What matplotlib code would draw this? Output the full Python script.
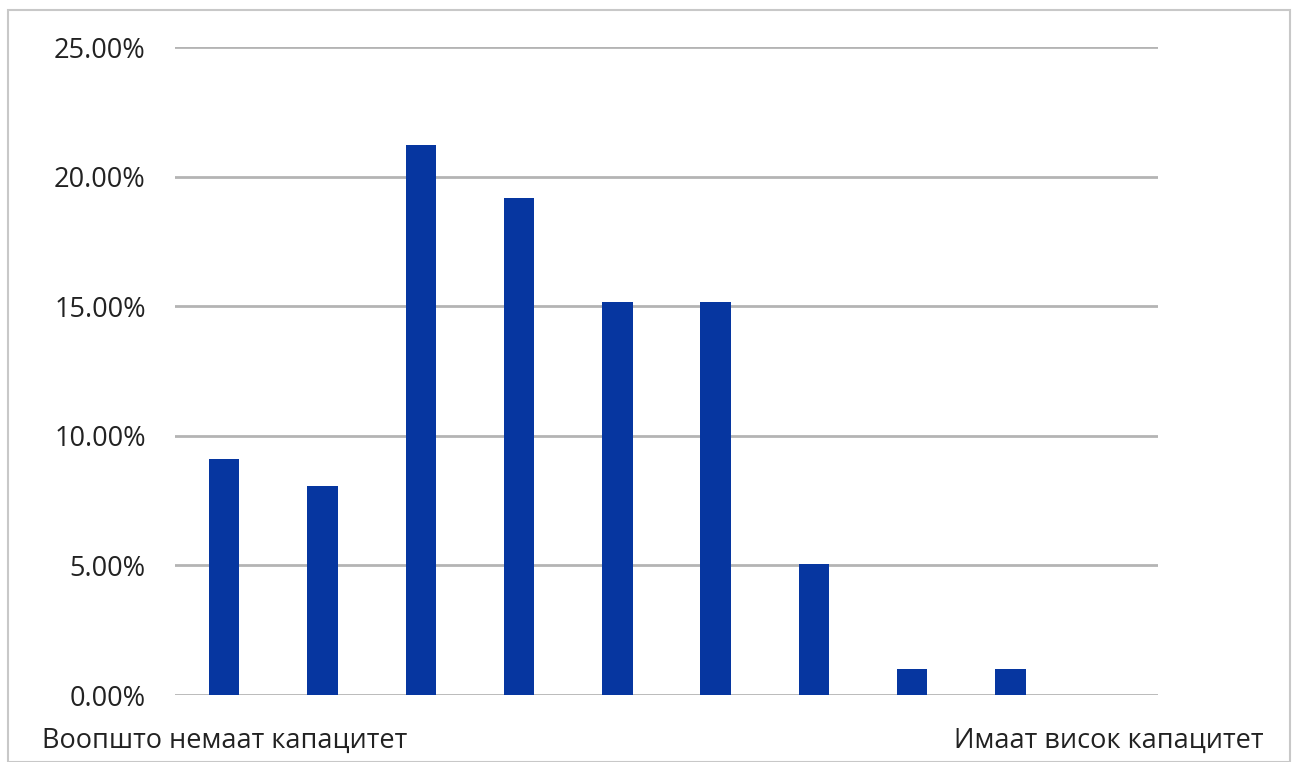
import matplotlib
matplotlib.use("Agg")
import matplotlib.pyplot as plt
from matplotlib.patches import Rectangle
from matplotlib.ticker import FuncFormatter

categories = ["Воопшто немаат капацитет", "", "", "", "", "", "", "", "", "Имаат висок капацитет"]
values = [9.09, 8.08, 21.21, 19.19, 15.15, 15.15, 5.05, 1.01, 1.01, 0.0]
yticks = [0, 5, 10, 15, 20, 25]

plt.rcParams['font.family'] = ['Open Sans', 'DejaVu Sans']

W, H = 1293, 762
fig = plt.figure(figsize=(W / 100, H / 100), dpi=100)
ax = fig.add_axes([175 / W, 67 / H, (1158 - 175) / W, (695 - 47) / H])

x = list(range(len(values)))
ax.bar(x, values, width=0.31, color="#0636A0", zorder=3)
ax.set_xlim(-0.5, len(values) - 0.5)
ax.set_ylim(0, 25)
ax.set_yticks(yticks)
ax.yaxis.set_major_formatter(FuncFormatter(lambda v, p: f"{v:.2f}%"))
ax.set_xticks(x)
ax.set_xticklabels(categories)
ax.grid(axis="y", color="#b4b4b4", linewidth=2, zorder=0)
for s in ax.spines.values():
    s.set_visible(False)
ax.tick_params(axis="both", length=0, labelsize=19.5, colors="#222222")
ax.tick_params(axis="y", pad=21)
ax.tick_params(axis="x", pad=23)

fig.patches.append(Rectangle((8 / W, 0), (1290 - 8) / W, (H - 10) / H, transform=fig.transFigure,
                             fill=False, edgecolor="#c8c8c8", linewidth=1.5))

fig.savefig("out.png", dpi=100)
